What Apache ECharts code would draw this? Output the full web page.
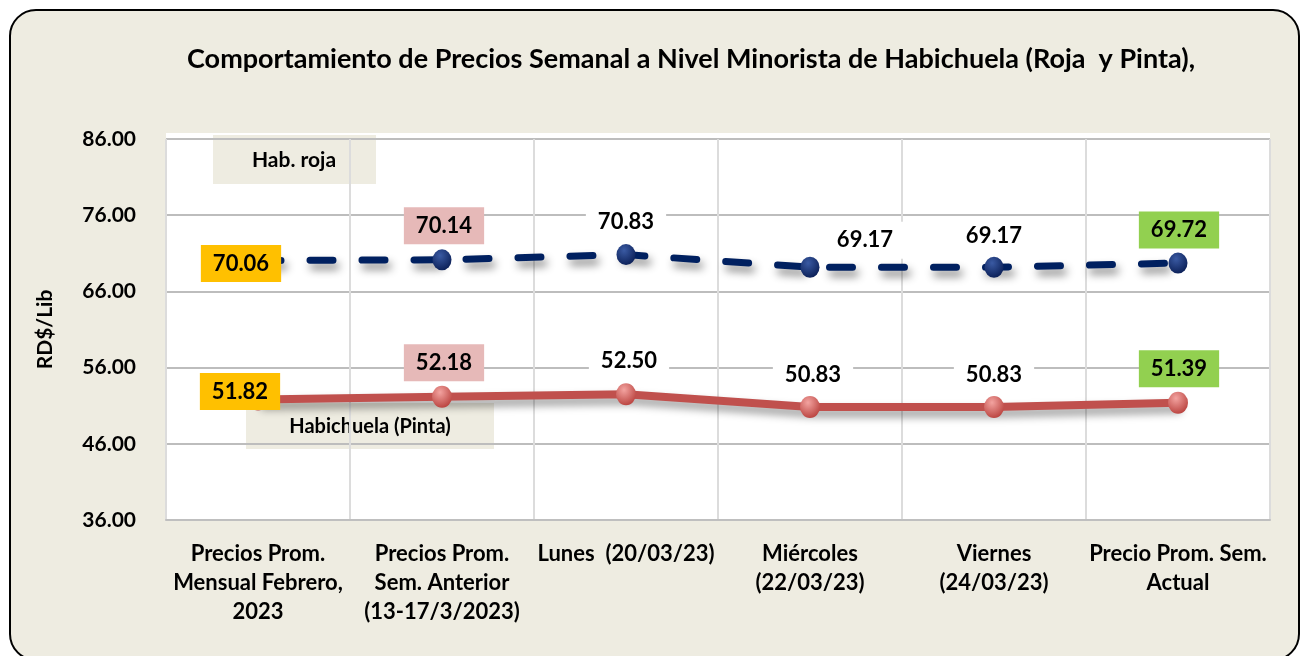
<!doctype html>
<html>
<head>
<meta charset="utf-8">
<title>Habichuela</title>
<script src="https://cdn.jsdelivr.net/npm/echarts@6/dist/echarts.min.js"></script>
</head>
<body style="margin:0;background:#fff;">
<div id="container" style="width:1301px;height:656px;"></div>
<script type="text/javascript">
    // categorias del eje X
    var categories = [
        'Precios Prom.\nMensual Febrero,\n2023',
        'Precios Prom.\nSem. Anterior\n(13-17/3/2023)',
        'Lunes  (20/03/23)',
        'Miércoles\n(22/03/23)',
        'Viernes\n(24/03/23)',
        'Precio Prom. Sem.\nActual'
    ];
    // precios RD$/Lib
    var rojaValues = [70.06, 70.14, 70.83, 69.17, 69.17, 69.72];
    var pintaValues = [51.82, 52.18, 52.50, 50.83, 50.83, 51.39];
    var yTicks = [36, 46, 56, 66, 76, 86];

    var FONT = 'Lato';
    var bg = '#EEECE1';

    // estilo de etiquetas (color de fondo y desplazamiento)
    var labelBg = ['#FFC000', '#E6B9B8', '#ffffff', '#ffffff', '#ffffff', '#92D050'];
    var rojaOffset = [[-17, 3], [2, -34], [0, -33], [55, -27], [0, -31], [1, -33]];
    var pintaOffset = [[-18, -8], [2, -34], [3, -33], [3, -32], [0, -32], [1, -34]];

    function buildData(values, offsets) {
        return values.map(function (v, i) {
            return {
                value: v,
                label: {
                    offset: offsets[i],
                    backgroundColor: labelBg[i]
                }
            };
        });
    }

    var labelBase = {
        show: true,
        position: 'inside',
        color: '#000',
        fontFamily: FONT,
        fontWeight: 'bold',
        fontSize: 22,
        padding: [8, 12, 7, 12],
        formatter: function (p) { return p.value.toFixed(2); }
    };

    function sphere(light, dark) {
        return {
            type: 'radial', x: 0.4, y: 0.3, r: 0.75,
            colorStops: [{ offset: 0, color: light }, { offset: 1, color: dark }]
        };
    }

    var option = {
        backgroundColor: '#ffffff',
        animation: false,
        graphic: [
            {
                type: 'rect', z: -10,
                shape: { x: 10, y: 10, width: 1289, height: 650, r: 26 },
                style: { fill: bg, stroke: '#000', lineWidth: 2 }
            },
            {
                type: 'rect', z: -9,
                shape: { x: 166, y: 133, width: 1104, height: 8 },
                style: { fill: '#fff' }
            },
            {
                type: 'group', left: 213, top: 135, z: 50,
                children: [
                    { type: 'rect', shape: { width: 163, height: 49 }, style: { fill: bg } },
                    { type: 'text', x: 81, y: 25, style: { text: 'Hab. roja', fontFamily: FONT, fontWeight: 'bold', fontSize: 21, fill: '#000', align: 'center', verticalAlign: 'middle' } }
                ]
            },
            {
                type: 'group', left: 246, top: 403, z: 50,
                children: [
                    { type: 'rect', shape: { width: 248, height: 46 }, style: { fill: bg } },
                    { type: 'text', x: 124, y: 24, style: { text: 'Habichuela (Pinta)', fontFamily: FONT, fontWeight: 'bold', fontSize: 20, fill: '#000', align: 'center', verticalAlign: 'middle' } }
                ]
            }
        ],
        title: {
            text: 'Comportamiento de Precios Semanal a Nivel Minorista de Habichuela (Roja  y Pinta),',
            left: 686, top: 41, textAlign: 'center',
            textStyle: { fontFamily: FONT, fontWeight: 'bold', fontSize: 27, color: '#000' }
        },
        grid: {
            left: 166, right: 31, top: 139, bottom: 136,
            show: true, backgroundColor: '#fff', borderWidth: 0
        },
        xAxis: {
            type: 'category',
            data: categories,
            boundaryGap: true,
            axisLine: { lineStyle: { color: '#BFBFBF', width: 2 } },
            axisTick: { show: false },
            axisLabel: {
                margin: 19, color: '#000', fontFamily: FONT, fontWeight: 'bold',
                fontSize: 22, lineHeight: 29, interval: 0
            },
            splitLine: { show: true, lineStyle: { color: '#DCDCDC', width: 2 } }
        },
        yAxis: {
            type: 'value',
            min: yTicks[0], max: yTicks[yTicks.length - 1], interval: 10,
            name: 'RD$/Lib', nameLocation: 'middle', nameGap: 110, nameRotate: 90,
            nameTextStyle: { fontFamily: FONT, fontWeight: 'bold', fontSize: 21, color: '#000' },
            axisLine: { show: false },
            axisTick: { show: false },
            axisLabel: {
                margin: 30, color: '#000', fontFamily: FONT, fontWeight: 'bold', fontSize: 21,
                formatter: function (v) { return v.toFixed(2); }
            },
            splitLine: { lineStyle: { color: '#BDBDBD', width: 2 } }
        },
        series: [
            {
                name: 'Hab. roja',
                type: 'line',
                data: buildData(rojaValues, rojaOffset),
                symbol: 'circle',
                symbolSize: [19, 21],
                itemStyle: { color: sphere('#3A5AA3', '#0A1E55') },
                lineStyle: {
                    color: '#002060', width: 7, type: [23, 29], cap: 'round',
                    shadowColor: 'rgba(0,0,0,0.45)', shadowBlur: 8, shadowOffsetX: 3, shadowOffsetY: 6
                },
                label: labelBase,
                z: 3
            },
            {
                name: 'Habichuela (Pinta)',
                type: 'line',
                data: buildData(pintaValues, pintaOffset),
                symbol: 'circle',
                symbolSize: [20, 22],
                itemStyle: { color: sphere('#F3A3A0', '#B8403C') },
                lineStyle: {
                    color: '#C0504D', width: 8,
                    shadowColor: 'rgba(0,0,0,0.4)', shadowBlur: 8, shadowOffsetX: 3, shadowOffsetY: 6
                },
                label: labelBase,
                z: 3
            }
        ]
    };

    var myChart = echarts.init(document.getElementById('container'));
    myChart.setOption(option);
</script>
</body>
</html>
